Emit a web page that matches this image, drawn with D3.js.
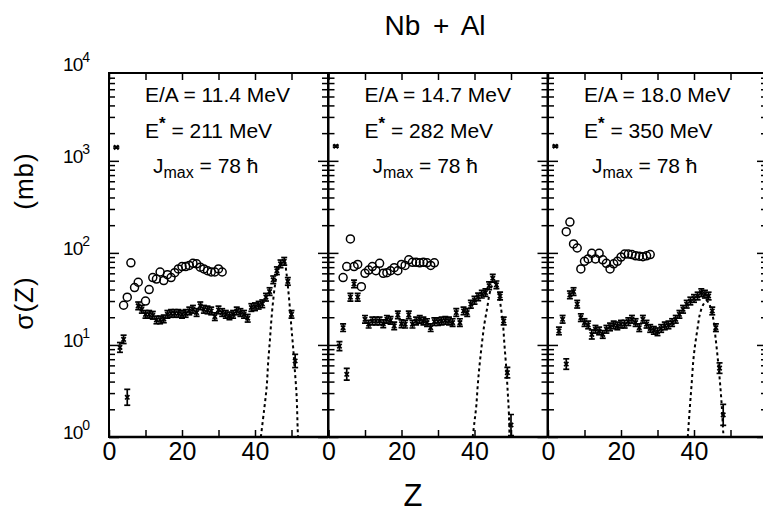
<!DOCTYPE html>
<html>
<head>
<meta charset="utf-8">
<script src="https://cdnjs.cloudflare.com/ajax/libs/d3/7.8.5/d3.min.js"></script>
<style>
  body { margin: 0; background: #fff; }
  text { font-family: "Liberation Sans", Arial, sans-serif; fill: #000; }
</style>
</head>
<body>
<div id="chart"></div>
<script>
// beam energies etc, one per panel
const energyPerA = ['11.4', '14.7', '18.0'];
const excitation = ['211', '282', '350'];
const jMax = ['78', '78', '78'];

// open circles: [Z, sigma (mb)]
const circles1 = [[4,27],[5,33],[6,78],[7,42],[8,48],[10,30],[11,40],[12,54],[13,52],[14,62],[15,50],[16,58],[17,54],[18,61],[19,67],[20,71],[21,71],[22,73],[23,77],[24,76],[25,70],[26,67],[27,64],[28,62],[29,62],[30,67],[31,62]];
const circles2 = [[4,54],[5,71],[6,142],[7,71],[8,75],[9,43],[10,60],[11,65],[12,71],[13,64],[14,77],[15,60],[16,61],[17,64],[18,69],[19,64],[20,75],[21,73],[22,84],[23,79],[24,79],[25,78],[26,79],[27,78],[28,73],[29,78]];
const circles3 = [[5,170],[6,216],[7,125],[8,113],[9,67],[10,81],[11,86],[12,99],[13,86],[14,99],[15,84],[16,77],[17,67],[18,76],[19,81],[20,90],[21,97],[22,97],[23,96],[24,93],[25,92],[26,91],[27,93],[28,96]];

// points with error bars: [Z, sigma (mb), relative error (optional)]
const ERR = 0.1;
const crosses1 = [[2,1400,0.02],[3,9.4,0.13],[4,11.5,0.11],[5,2.7,0.22],[8,26.6],[9,24.4],[10,21.5],[11,21.5],[12,21],[13,18.7],[14,18.7],[15,19.2],[16,21.5],[17,22],[18,22],[19,22],[20,21.5],[21,22],[22,23.4],[23,24.4],[24,22.5],[25,26.6],[26,24.4],[27,24],[28,23.4],[29,20.3],[30,24],[31,22.5],[32,21.5],[33,20.7],[34,21.5],[35,23.4],[36,22.5],[37,21.5],[38,19.5],[39,25.5],[40,26],[41,27],[42,28],[43,33],[44,38],[45,51],[46,64],[47,76],[48,81],[49,49],[50,21.5],[51,6.7,0.18]];
const crosses2 = [[2,1440,0.02],[3,9.7,0.12],[4,15.4],[5,4.8,0.16],[6,33],[7,46],[8,33],[10,19],[11,16.8],[12,18.2],[13,18.2],[14,18.2],[15,17],[16,19],[17,18.5],[18,16.1],[19,21.2],[20,17],[21,16.8],[22,21.2],[23,16.8],[24,18.2],[25,19],[26,18.2],[27,17.5],[28,15.4],[29,17.9],[30,17.9],[31,18.2],[32,18.5],[33,18.2],[34,17.5],[35,22.5],[36,17.5],[37,23.4],[38,22.5],[39,27.7],[40,30.6],[41,33.3],[42,35.6],[43,37],[44,44],[45,53],[46,45],[47,34],[48,18.2],[49,5,0.14],[50,1.35,0.3]];
const crosses3 = [[2,1440,0.02],[3,14.2,0.1],[4,19],[5,6.2,0.14],[6,35],[7,38],[8,27.7],[9,19.8],[10,17.5],[11,16.5],[12,13,0.12],[13,14.8],[14,14.2],[15,13],[16,14.8],[17,15.7],[18,16.5],[19,16.1],[20,16.8],[21,16.8],[22,17.9],[23,19],[24,17.5],[25,15.4],[26,19],[27,16.8],[28,15.1],[29,14.4],[30,13.9],[31,15.1],[32,16.1],[33,16.5],[34,17.5],[35,19],[36,21.5],[37,24.4],[38,27.7],[39,30],[40,32],[41,34],[42,37],[43,35.6],[44,34],[45,23.4],[46,15.4],[47,5.6,0.14],[48,1.74,0.3]];

// dashed calculation: [Z, sigma (mb)]
const curve1 = [[41.6,1],[42.5,1.97],[43.2,3.5],[43.6,6.4],[44.1,11.5],[44.5,19],[45.0,31],[45.6,48],[46.4,67],[47.3,79],[48.0,81],[48.6,61],[49.1,40],[49.6,24],[50.0,15],[50.5,8.9],[50.9,5.4],[51.4,2.8],[51.7,1.2],[51.8,1]];
const curve2 = [[39.5,1],[40.0,1.47],[40.5,2.2],[40.9,3.7],[41.4,6.1],[42.0,10.1],[42.7,16.8],[43.5,25.5],[44.1,35.6],[44.8,44],[45.7,48],[46.4,39],[47.1,27.7],[47.8,16.8],[48.2,10.1],[48.7,5.6],[49.1,3.1],[49.4,1.9],[49.6,1]];
const curve3 = [[38.3,1],[38.9,2.2],[39.4,4.0],[39.8,6.7],[40.3,10],[41.0,15.4],[41.6,21.5],[42.6,27.7],[43.5,30],[44.4,26.5],[45.3,19],[45.9,12],[46.5,7.2],[47.1,4],[47.6,2.2],[48.0,1.14],[48.1,1]];

const xTicks = [0, 10, 20, 30, 40, 50, 60];
const xLabels = [0, 20, 40];
const yMajor = [1, 10, 100, 1000];
const yLabelExp = [0, 1, 2, 3, 4];

const panels = [
  { circles: circles1, crosses: crosses1, curve: curve1 },
  { circles: circles2, crosses: crosses2, curve: curve2 },
  { circles: circles3, crosses: crosses3, curve: curve3 },
];

const width = 763, height = 513;
const plotTop = 73, plotBottom = 437, panelW = 219;
const lefts = [109, 328.5, 548];

const svg = d3.select('#chart').append('svg')
  .attr('width', width).attr('height', height);

const y = d3.scaleLog().domain([1, 9000]).range([plotBottom, plotTop]);

let yMinor = [];
yMajor.forEach(d => { for (let k = 2; k <= 9; k++) if (d * k < 9000) yMinor.push(d * k); });

panels.forEach((p, i) => {
  const left = lefts[i];
  const x = d3.scaleLinear().domain([0, 60]).range([left, left + panelW]);
  const g = svg.append('g');

  g.append('clipPath').attr('id', 'clip' + i)
    .append('rect').attr('x', left).attr('y', plotTop).attr('width', panelW).attr('height', plotBottom - plotTop);

  // ticks, all pointing inward
  const styleAxis = sel => {
    sel.select('.domain').remove();
    sel.selectAll('line').attr('stroke', '#000').attr('stroke-width', 1.5);
  };
  g.append('g').attr('transform', `translate(${left},0)`)
    .call(d3.axisLeft(y).tickValues(yMajor).tickSize(-10).tickFormat(''))
    .call(styleAxis);
  g.append('g').attr('transform', `translate(${left},0)`)
    .call(d3.axisLeft(y).tickValues(yMinor).tickSize(-6).tickFormat(''))
    .call(styleAxis);
  g.append('g').attr('transform', `translate(${left + panelW},0)`)
    .call(d3.axisRight(y).tickValues(yMajor).tickSize(-10).tickFormat(''))
    .call(styleAxis);
  g.append('g').attr('transform', `translate(${left + panelW},0)`)
    .call(d3.axisRight(y).tickValues(yMinor).tickSize(-6).tickFormat(''))
    .call(styleAxis);
  g.append('g').attr('transform', `translate(0,${plotTop})`)
    .call(d3.axisTop(x).tickValues(xTicks).tickSize(-7).tickFormat(''))
    .call(styleAxis);
  g.append('g').attr('transform', `translate(0,${plotBottom})`)
    .call(d3.axisBottom(x).tickValues(xTicks).tickSize(-7).tickPadding(5)
      .tickFormat(d => xLabels.includes(d) ? d : ''))
    .call(styleAxis)
    .call(sel => sel.selectAll('text').attr('font-size', 25)
      .attr('font-family', '"Liberation Sans", Arial, sans-serif'));

  // frame
  g.append('rect').attr('x', left).attr('y', plotTop)
    .attr('width', panelW).attr('height', plotBottom - plotTop)
    .attr('fill', 'none').attr('stroke', '#000').attr('stroke-width', 2);
  g.append('line').attr('x1', left).attr('x2', left + panelW)
    .attr('y1', plotBottom).attr('y2', plotBottom)
    .attr('stroke', '#000').attr('stroke-width', 2.5);

  const plot = g.append('g').attr('clip-path', `url(#clip${i})`);

  // dashed curve
  plot.append('path')
    .datum(p.curve)
    .attr('fill', 'none').attr('stroke', '#000').attr('stroke-width', 2)
    .attr('stroke-dasharray', '3,3')
    .attr('d', d3.line().x(d => x(d[0])).y(d => y(d[1])).curve(d3.curveCatmullRom));

  // open circles
  plot.selectAll('circle').data(p.circles).enter().append('circle')
    .attr('cx', d => x(d[0])).attr('cy', d => y(d[1])).attr('r', 4)
    .attr('fill', 'none').attr('stroke', '#000').attr('stroke-width', 1.5);

  // error bar points
  const pts = plot.selectAll('g.pt').data(p.crosses).enter().append('g').attr('class', 'pt')
    .attr('stroke', '#000').attr('stroke-width', 1.7);
  pts.each(function(d) {
    const e = d[2] !== undefined ? d[2] : ERR;
    const cx = x(d[0]), cy = y(d[1]);
    const y0 = y(d[1] * (1 + e)), y1 = y(d[1] / (1 + e));
    const s = d3.select(this);
    s.append('line').attr('x1', cx).attr('x2', cx).attr('y1', y0).attr('y2', y1);
    s.append('line').attr('x1', cx - 3).attr('x2', cx + 3).attr('y1', y0).attr('y2', y0);
    s.append('line').attr('x1', cx - 3).attr('x2', cx + 3).attr('y1', y1).attr('y2', y1);
    s.append('path').attr('d', `M${cx-2.2},${cy-2.2}L${cx+2.2},${cy+2.2}M${cx-2.2},${cy+2.2}L${cx+2.2},${cy-2.2}`);
  });

  // annotations
  const tx = left + 36;
  g.append('text').attr('x', tx).attr('y', 102).attr('font-size', 21)
    .text(`E/A = ${energyPerA[i]} MeV`);
  const t2 = g.append('text').attr('x', tx).attr('y', 138).attr('font-size', 21);
  t2.append('tspan').text('E');
  t2.append('tspan').attr('dy', -9).attr('font-size', 17).attr('font-weight', 'bold').text('*');
  t2.append('tspan').attr('dy', 9).text(` = ${excitation[i]} MeV`);
  const t3 = g.append('text').attr('x', left + 44).attr('y', 173).attr('font-size', 21);
  t3.append('tspan').text('J');
  t3.append('tspan').attr('dy', 5).attr('font-size', 16).text('max');
  t3.append('tspan').attr('dy', -5).text(` = ${jMax[i]} \u0127`);
});

// y tick labels, left of the first panel
yLabelExp.forEach(n => {
  const t = svg.append('text').attr('x', 89).attr('y', y(Math.pow(10, n)) + 2)
    .attr('text-anchor', 'end').attr('font-size', 19).attr('letter-spacing', -1);
  t.append('tspan').text('10');
  t.append('tspan').attr('dy', -9).attr('font-size', 14).text(n);
});

// titles
svg.append('text').attr('x', 435).attr('y', 35).attr('text-anchor', 'middle')
  .attr('font-size', 28).attr('word-spacing', 5).text('Nb + Al');
svg.append('text').attr('x', 413).attr('y', 506).attr('text-anchor', 'middle')
  .attr('font-size', 31).text('Z');
svg.append('text').attr('transform', 'translate(33,303) rotate(-90)')
  .attr('text-anchor', 'middle').attr('font-size', 26).attr('letter-spacing', 1).text('\u03c3(Z)');
svg.append('text').attr('transform', 'translate(33,181) rotate(-90)')
  .attr('text-anchor', 'middle').attr('font-size', 26).attr('letter-spacing', 1).text('(mb)');
</script>
</body>
</html>
